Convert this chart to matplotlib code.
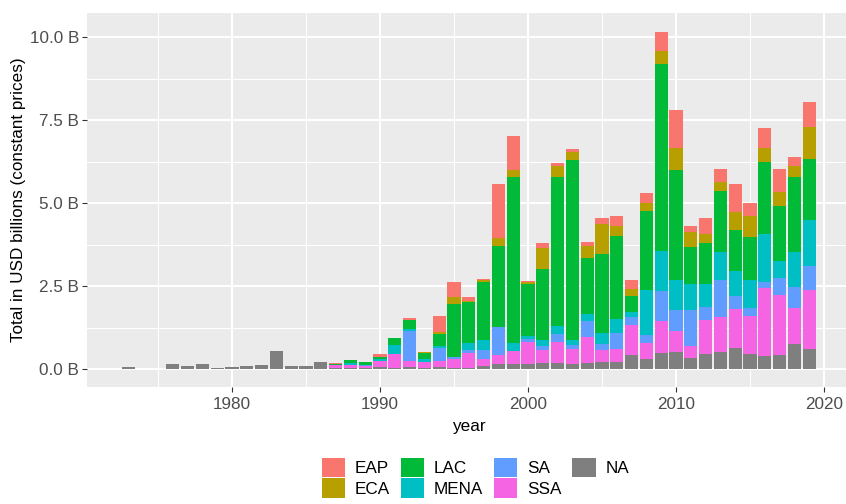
import matplotlib
matplotlib.use("Agg")
import matplotlib.pyplot as plt
from matplotlib.patches import Patch
from matplotlib.ticker import FuncFormatter, MultipleLocator
import numpy as np

plt.rcParams['font.family'] = ['Liberation Sans', 'DejaVu Sans']

years = [1973, 1976, 1977, 1978, 1979, 1980, 1981, 1982, 1983, 1984, 1985, 1986,
         1987, 1988, 1989, 1990, 1991, 1992, 1993, 1994, 1995, 1996, 1997, 1998,
         1999, 2000, 2001, 2002, 2003, 2004, 2005, 2006, 2007, 2008, 2009, 2010,
         2011, 2012, 2013, 2014, 2015, 2016, 2017, 2018, 2019]

# values in billions USD, per region
NA_ = [0.07, 0.17, 0.10, 0.17, 0.05, 0.07, 0.11, 0.14, 0.55, 0.10, 0.10, 0.23,
       0.05, 0.05, 0.04, 0.08, 0.04, 0.06, 0.05, 0.07, 0.03, 0.03, 0.10, 0.16,
       0.16, 0.16, 0.19, 0.19, 0.17, 0.19, 0.22, 0.22, 0.42, 0.32, 0.48, 0.51,
       0.35, 0.47, 0.51, 0.64, 0.47, 0.41, 0.44, 0.77, 0.61]
SSA = [0, 0, 0, 0, 0, 0, 0, 0, 0, 0, 0, 0,
       0.08, 0.08, 0.06, 0.17, 0.41, 0.20, 0.16, 0.18, 0.27, 0.47, 0.21, 0.28,
       0.39, 0.67, 0.39, 0.64, 0.43, 0.77, 0.35, 0.38, 0.91, 0.47, 0.98, 0.64,
       0.35, 1.00, 1.05, 1.17, 1.13, 2.05, 1.79, 1.08, 1.78]
SA = [0, 0, 0, 0, 0, 0, 0, 0, 0, 0, 0, 0,
      0, 0, 0.03, 0, 0, 0.89, 0, 0.39, 0.07, 0.08, 0.27, 0.82,
      0.01, 0.07, 0.13, 0.23, 0.13, 0.50, 0.19, 0.48, 0.23, 0.24, 0.90, 0.63,
      1.09, 0.41, 1.12, 0.39, 0.24, 0.16, 0.51, 0.63, 0.73]
MENA = [0, 0, 0, 0, 0, 0, 0, 0, 0, 0, 0, 0,
        0, 0.05, 0, 0.05, 0.28, 0.05, 0.10, 0.06, 0, 0.22, 0.31, 0,
        0.23, 0.10, 0.17, 0.24, 0.15, 0.22, 0.32, 0.42, 0.16, 1.36, 1.19, 0.90,
        0.77, 0.68, 0.84, 0.77, 0.86, 1.46, 0.51, 1.04, 1.38]
LAC = [0, 0, 0, 0, 0, 0, 0, 0, 0, 0, 0, 0,
       0.03, 0.10, 0.09, 0.06, 0.22, 0.28, 0.17, 0.35, 1.59, 1.24, 1.75, 2.44,
       5.00, 1.56, 2.13, 4.49, 5.42, 1.68, 2.40, 2.50, 0.48, 2.37, 5.63, 3.33,
       1.11, 1.24, 1.85, 1.21, 1.27, 2.15, 1.68, 2.26, 1.83]
ECA = [0, 0, 0, 0, 0, 0, 0, 0, 0, 0, 0, 0,
       0, 0, 0, 0, 0, 0, 0.03, 0.07, 0.22, 0.03, 0.04, 0.25,
       0.22, 0.06, 0.63, 0.32, 0.25, 0.34, 0.90, 0.31, 0.23, 0.26, 0.41, 0.64,
       0.45, 0.28, 0.26, 0.55, 0.66, 0.42, 0.41, 0.35, 0.96]
EAP = [0, 0, 0, 0, 0, 0, 0, 0, 0, 0, 0, 0,
       0.03, 0, 0, 0.09, 0, 0.06, 0, 0.48, 0.45, 0.10, 0.03, 1.64,
       1.02, 0.03, 0.17, 0.09, 0.07, 0.14, 0.19, 0.32, 0.25, 0.29, 0.58, 1.15,
       0.20, 0.49, 0.40, 0.86, 0.38, 0.63, 0.69, 0.26, 0.77]

regions = ["EAP", "ECA", "LAC", "MENA", "SA", "SSA", "NA"]
colors = {"EAP": "#F8766D", "ECA": "#B79F00", "LAC": "#00BA38", "MENA": "#00BFC4",
          "SA": "#619CFF", "SSA": "#F564E3", "NA": "#7F7F7F"}
series = {"EAP": EAP, "ECA": ECA, "LAC": LAC, "MENA": MENA, "SA": SA, "SSA": SSA, "NA": NA_}

W, H = 846, 504
fig = plt.figure(figsize=(W / 100, H / 100), dpi=100)
ax = fig.add_axes([87.3 / W, 1 - 386.7 / H, (850.6 - 87.3) / W, (386.7 - 13.3) / H])
ax.set_facecolor("#EBEBEB")

x = np.array(years)
bottom = np.zeros(len(years))
for reg in ["NA", "SSA", "SA", "MENA", "LAC", "ECA", "EAP"]:
    vals = np.array(series[reg])
    ax.bar(x, vals, width=0.9, bottom=bottom, color=colors[reg], linewidth=0, zorder=3)
    bottom += vals

ax.set_xlim(1970.22, 2021.8)
ax.set_ylim(-0.524, 10.72)

ax.xaxis.set_major_locator(MultipleLocator(10))
ax.xaxis.set_minor_locator(MultipleLocator(5))
ax.yaxis.set_major_locator(MultipleLocator(2.5))
ax.yaxis.set_minor_locator(MultipleLocator(1.25))
ax.yaxis.set_major_formatter(FuncFormatter(lambda v, p: f"{v:.1f} B"))
ax.xaxis.set_major_formatter(FuncFormatter(lambda v, p: f"{int(v)}"))

ax.grid(which="major", color="white", linewidth=1.45, zorder=1)
ax.grid(which="minor", color="white", linewidth=0.72, zorder=1)
ax.set_axisbelow(True)
for s in ax.spines.values():
    s.set_visible(False)

ax.tick_params(which="major", length=3.9, width=0.8, color="#333333",
               labelsize=12.3, labelcolor="#4D4D4D")
ax.tick_params(axis="x", which="major", pad=3.2)
ax.tick_params(axis="y", which="major", pad=2)
ax.tick_params(which="minor", length=0)

ax.set_xlabel("year", fontsize=12.3, color="black", labelpad=5)
ax.set_ylabel("Total in USD billions (constant prices)", fontsize=12.3, color="black", labelpad=3)

handles = [Patch(facecolor=colors[r], edgecolor="none", label=r) for r in regions]
leg = fig.legend(handles=handles, ncol=4, loc="upper left",
                 bbox_to_anchor=(322 / W, 1 - 457.7 / H), frameon=False,
                 fontsize=12.3, handlelength=1.35, handleheight=1.35,
                 handletextpad=0.57, columnspacing=0.65, labelspacing=0.09,
                 borderpad=0, borderaxespad=0)

fig.savefig("out.png", dpi=100)
